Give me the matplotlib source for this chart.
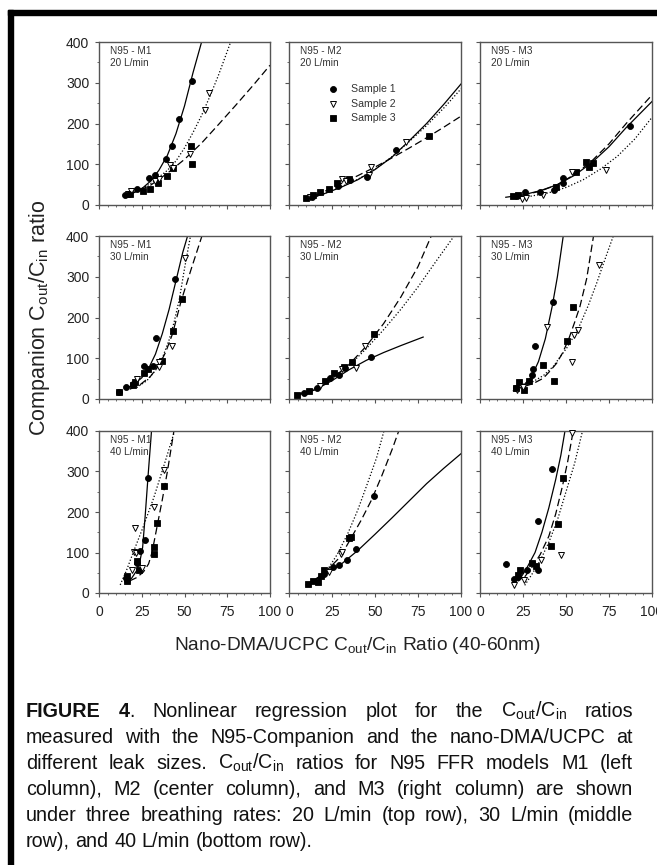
import matplotlib
matplotlib.use("Agg")
import matplotlib.pyplot as plt
from matplotlib.patches import Rectangle
from matplotlib.ticker import MultipleLocator

plt.rcParams["font.family"] = ["Liberation Sans", "DejaVu Sans"]
plt.rcParams["mathtext.fontset"] = "custom"
plt.rcParams["mathtext.rm"] = "Liberation Sans"
plt.rcParams["mathtext.it"] = "Liberation Sans:italic"
plt.rcParams["mathtext.bf"] = "Liberation Sans:bold"

# ---------------- data ----------------
models = ["M1", "M2", "M3"]
rates = ["20", "30", "40"]
x_ticks = [0, 25, 50, 75, 100]
y_ticks = [0, 100, 200, 300, 400]
sample_labels = ["Sample 1", "Sample 2", "Sample 3"]

# M1, 20 L/min
m1_20_s1 = [(15.2, 24), (17.5, 27), (22.5, 38.5), (29.3, 67), (32.6, 74.6), (39, 114), (42.6, 144), (46.9, 210), (54.1, 305)]
m1_20_s2 = [(17, 26), (19, 35), (33, 60), (35, 64), (41.4, 97.5), (43, 92), (53.1, 124.6), (61.9, 233), (64.5, 275)]
m1_20_s3 = [(18, 26), (25.8, 34), (29.7, 39), (34.6, 54), (39.5, 70.5), (43, 91), (53.7, 145), (54.3, 100)]
m1_20_f1 = [(15, 24), (20, 30), (25, 40), (30, 58), (35, 85), (40, 122), (45, 175), (50, 243), (55, 325), (60, 400)]
m1_20_f2 = [(20, 30), (30, 52), (40, 85), (45, 108), (50, 140), (55, 178), (60, 220), (65, 268), (70, 320), (77, 400)]
m1_20_f3 = [(18, 26), (30, 48), (40, 78), (50, 112), (60, 152), (70, 198), (80, 245), (90, 293), (100, 343)]

# M2, 20 L/min
m2_20_s1 = [(13.6, 19), (28.5, 47), (35.7, 61), (45.4, 69), (62, 134)]
m2_20_s2 = [(12, 20), (31, 65), (33.4, 58.5), (46.6, 73), (47.4, 93.5), (67.8, 154)]
m2_20_s3 = [(9.7, 16), (14, 24), (17.9, 32.5), (23.3, 39), (28, 53), (34.8, 65), (81.6, 169)]
m2_20_f1 = [(9, 12), (20, 27), (30, 43), (40, 62), (50, 87), (60, 118), (70, 158), (80, 200), (90, 247), (100, 297)]
m2_20_f2 = [(9, 12), (20, 27), (30, 44), (40, 63), (50, 88), (60, 119), (70, 156), (80, 195), (90, 238), (100, 285)]
m2_20_f3 = [(9, 13), (20, 32), (30, 52), (40, 72), (50, 93), (60, 116), (70, 140), (80, 165), (90, 191), (100, 218)]

# M3, 20 L/min
m3_20_s1 = [(21.4, 23), (26.2, 31), (35, 32.5), (43.3, 36.6), (48.5, 54.5), (48.5, 67), (87.4, 193)]
m3_20_s2 = [(24.3, 14), (26.8, 16), (36.9, 24), (53.6, 80), (73.4, 85)]
m3_20_s3 = [(19.4, 22), (22.3, 24), (44.3, 45), (55.9, 81), (61.7, 106), (63.1, 93.5), (65.6, 104)]
m3_20_f1 = [(15, 19), (25, 25), (35, 35), (45, 50), (55, 73), (65, 104), (75, 143), (85, 190), (100, 254)]
m3_20_f2 = [(20, 17), (30, 22), (40, 30), (50, 43), (60, 62), (70, 88), (80, 120), (90, 162), (100, 215)]
m3_20_f3 = [(18, 20), (25, 24), (35, 34), (45, 50), (55, 75), (65, 108), (75, 150), (85, 200), (100, 270)]

# M1, 30 L/min
m1_30_s1 = [(11.8, 17), (15.7, 28.6), (20, 37.5), (26.5, 81.6), (31.8, 82), (33.1, 149), (44.5, 295)]
m1_30_s2 = [(22.4, 50), (35.3, 92), (35.1, 77.5), (42.5, 129), (50.4, 345)]
m1_30_s3 = [(11.8, 17), (20, 35), (21, 41), (26.3, 65), (28.8, 73.5), (37, 94), (43, 166), (48.4, 246)]
m1_30_f1 = [(17, 28), (21, 38), (25, 52), (29, 75), (33, 110), (37, 160), (41, 220), (45, 290), (49, 360), (51.8, 400)]
m1_30_f2 = [(22, 28), (28, 45), (33, 70), (37, 100), (41, 145), (44, 190), (47, 245), (50, 320), (53.5, 400)]
m1_30_f3 = [(18, 24), (24, 35), (30, 55), (35, 82), (39, 115), (43, 160), (48, 240), (54, 320), (60.2, 400)]

# M2, 30 L/min
m2_30_s1 = [(8.7, 14.7), (16.3, 27), (24, 51), (28.8, 60), (32.3, 76), (47.7, 102)]
m2_30_s2 = [(18.3, 31), (30.8, 73), (38.8, 76), (44.2, 129)]
m2_30_s3 = [(4.8, 10.6), (11.5, 18.8), (21, 43), (26.3, 64), (31.7, 78), (36.5, 90.6), (49.4, 160)]
m2_30_f1 = [(4, 9), (15, 22), (25, 45), (35, 72), (45, 95), (55, 114), (65, 131), (78, 152)]
m2_30_f2 = [(4, 9), (15, 25), (25, 50), (35, 82), (45, 124), (55, 170), (65, 220), (75, 275), (85, 335), (96, 400)]
m2_30_f3 = [(4, 9), (15, 25), (25, 50), (35, 85), (45, 130), (55, 185), (65, 250), (75, 325), (82.7, 400)]

# M3, 30 L/min
m3_30_s1 = [(20.9, 27), (30.4, 59.6), (31, 73), (32, 130.6), (42.2, 237)]
m3_30_s2 = [(21.7, 21), (25, 30), (39.1, 176), (53.5, 90.6), (54.7, 157.6), (56.8, 170), (69.2, 329)]
m3_30_s3 = [(21, 28), (22.5, 41), (25.8, 23), (28.7, 43), (36.4, 84), (43, 43), (50.4, 142), (53.9, 225)]
m3_30_f1 = [(19.4, 20), (25, 32), (30, 55), (34, 92), (38, 148), (42, 228), (45, 300), (48.4, 400)]
m3_30_f2 = [(19.4, 31), (25, 36), (31, 43), (37, 58), (42.6, 80), (46, 100), (50.4, 125), (54, 150), (58.1, 182), (63, 230), (67.8, 284), (72, 335), (77.5, 400)]
m3_30_f3 = [(26, 31), (31, 38), (36.8, 51), (41, 70), (44.6, 88), (48, 113), (51.4, 145), (55, 188), (58.1, 227), (62, 295), (66, 400)]

# M1, 40 L/min
m1_40_s1 = [(15.9, 37), (16.3, 33), (22.3, 74), (23.9, 103.5), (26.9, 131), (28.9, 285)]
m1_40_s2 = [(19.3, 57.5), (20.3, 101), (20.9, 160), (21.7, 98.6), (25.3, 61.6), (31.9, 213.5), (38.2, 304)]
m1_40_s3 = [(16.3, 41), (16.3, 28.7), (22.3, 78), (23.3, 57.5), (31.9, 113), (31.9, 96), (33.7, 172.5), (38.2, 263)]
m1_40_f1 = [(16, 30), (19, 36), (22, 55), (24, 80), (25.5, 112), (27, 190), (28.8, 295), (30.7, 400)]
m1_40_f2 = [(12.4, 20), (16, 55), (20, 100), (26, 165), (32, 235), (38, 315), (44.2, 400)]
m1_40_f3 = [(18, 30), (22, 38), (26, 52), (29, 72), (31, 100), (34, 165), (37, 230), (40, 300), (43.8, 400)]

# M2, 40 L/min
m2_40_s1 = [(20.6, 47.5), (25.4, 64), (28.8, 68), (34, 82), (39.2, 109), (49.4, 240)]
m2_40_s2 = [(23.5, 51.6), (30.2, 96.7), (30.8, 101)]
m2_40_s3 = [(11, 21), (13.8, 29.5), (16.7, 27), (18.7, 43), (20.6, 56), (34.6, 135), (36.3, 139)]
m2_40_f1 = [(10, 20), (20, 44), (30, 70), (40, 105), (50, 145), (60, 186), (70, 228), (80, 270), (90, 308), (100, 344)]
m2_40_f2 = [(15, 30), (22, 55), (28, 95), (34, 145), (40, 205), (46, 275), (51, 335), (55.2, 400)]
m2_40_f3 = [(10, 20), (20, 47), (30, 90), (36, 135), (42, 180), (48, 230), (54, 290), (60, 355), (63.8, 400)]

# M3, 40 L/min
m3_40_s1 = [(15.2, 70.5), (19.6, 35), (21.9, 39), (27.3, 56), (33.5, 57), (34, 177), (41.7, 306)]
m3_40_s2 = [(19.6, 19), (25.4, 31), (35.6, 82), (47.1, 94), (53.3, 396)]
m3_40_s3 = [(21.9, 43.4), (23, 56), (30.2, 74.6), (32.7, 65.6), (41.3, 115.6), (45.6, 170.5), (48.5, 283)]
m3_40_f1 = [(22.5, 30), (27, 60), (32, 100), (36, 150), (40, 210), (44, 280), (47, 340), (49.4, 400)]
m3_40_f2 = [(26, 19), (30, 45), (35, 80), (40, 125), (45, 180), (50, 250), (55, 320), (59.6, 400)]
m3_40_f3 = [(26, 40), (30, 62), (35, 95), (40, 140), (44, 195), (48, 265), (51, 325), (54.2, 400)]

panel_data = {
    (0, 0): (m1_20_s1, m1_20_s2, m1_20_s3, m1_20_f1, m1_20_f2, m1_20_f3),
    (0, 1): (m2_20_s1, m2_20_s2, m2_20_s3, m2_20_f1, m2_20_f2, m2_20_f3),
    (0, 2): (m3_20_s1, m3_20_s2, m3_20_s3, m3_20_f1, m3_20_f2, m3_20_f3),
    (1, 0): (m1_30_s1, m1_30_s2, m1_30_s3, m1_30_f1, m1_30_f2, m1_30_f3),
    (1, 1): (m2_30_s1, m2_30_s2, m2_30_s3, m2_30_f1, m2_30_f2, m2_30_f3),
    (1, 2): (m3_30_s1, m3_30_s2, m3_30_s3, m3_30_f1, m3_30_f2, m3_30_f3),
    (2, 0): (m1_40_s1, m1_40_s2, m1_40_s3, m1_40_f1, m1_40_f2, m1_40_f3),
    (2, 1): (m2_40_s1, m2_40_s2, m2_40_s3, m2_40_f1, m2_40_f2, m2_40_f3),
    (2, 2): (m3_40_s1, m3_40_s2, m3_40_s3, m3_40_f1, m3_40_f2, m3_40_f3),
}

# ---------------- layout ----------------
W, H = 657, 865
fig = plt.figure(figsize=(W / 100, H / 100), dpi=100)
fig.patch.set_facecolor("white")

cols_px = [(99, 270), (289, 461), (480, 652)]
rows_px = [(42, 205), (236, 399), (431, 593)]
spine_c = "#555555"
text_c = "#333333"

marker_styles = [
    dict(marker="o", ms=4.3, mfc="black", mec="black", mew=0.6),
    dict(marker="v", ms=5.0, mfc="white", mec="black", mew=0.7),
    dict(marker="s", ms=4.6, mfc="black", mec="black", mew=0.6),
]
line_styles = ["-", (0, (1, 1.6)), (0, (6, 3))]


def xy(pts):
    return [p[0] for p in pts], [p[1] for p in pts]


for r, (yt, yb) in enumerate(rows_px):
    for c, (xl, xr) in enumerate(cols_px):
        ax = fig.add_axes([xl / W, 1 - yb / H, (xr - xl) / W, (yb - yt) / H])
        s1, s2, s3, f1, f2, f3 = panel_data[(r, c)]
        for k, f in enumerate((f1, f2, f3)):
            fx, fy = xy(f)
            ax.plot(fx, fy, color="black", lw=0.9, ls=line_styles[k], zorder=2)
        for k, s in enumerate((s3, s2, s1)):
            sx, sy = xy(s)
            ax.plot(sx, sy, ls="none", zorder=3, clip_on=False, **marker_styles[2 - k])
        ax.set_xlim(0, 100)
        ax.set_ylim(0, 400)
        ax.set_xticks(x_ticks)
        ax.set_yticks(y_ticks)
        ax.xaxis.set_minor_locator(MultipleLocator(5))
        ax.yaxis.set_minor_locator(MultipleLocator(50))
        ax.tick_params(which="major", direction="out", length=3, width=0.8,
                       color=spine_c, labelsize=10, labelcolor="#222222")
        ax.tick_params(which="minor", direction="out", length=1.6, width=0.6, color=spine_c)
        ax.tick_params(axis="x", pad=6)
        ax.tick_params(axis="y", pad=4)
        if c != 0:
            ax.set_yticklabels([])
        if r != 2:
            ax.set_xticklabels([])
        for sp in ax.spines.values():
            sp.set_color(spine_c)
            sp.set_linewidth(1.0)
        ax.text(0.065, 0.975, f"N95 - {models[c]}\n{rates[r]} L/min", transform=ax.transAxes,
                fontsize=7.2, va="top", ha="left", color=text_c, linespacing=1.2)
        if (r, c) == (0, 1):
            for k, (ly) in enumerate([0.712, 0.622, 0.534]):
                ax.plot([0.254], [ly], transform=ax.transAxes, ls="none", **marker_styles[k])
                ax.text(0.36, ly, sample_labels[k], transform=ax.transAxes, fontsize=7.6,
                        va="center", ha="left", color=text_c)

# axis labels
fig.text(40 / W, 1 - 318 / H, r"Companion $\mathregular{C_{out}/C_{in}}$ ratio",
         rotation=90, ha="center", va="center", fontsize=15.5, color="#222222")
fig.text(358 / W, 1 - 645 / H, r"Nano-DMA/UCPC $\mathregular{C_{out}/C_{in}}$ Ratio (40-60nm)",
         ha="center", va="center", fontsize=13.8, color="#222222")

# border bars
fig.patches.append(Rectangle((8 / W, 1 - 14.5 / H), (W - 8) / W, 4.5 / H,
                             transform=fig.transFigure, color="black", zorder=10))
fig.patches.append(Rectangle((8 / W, 0), 5 / W, 1 - 10 / H,
                             transform=fig.transFigure, color="black", zorder=10))

# caption (justified)
CR = r"$\mathregular{C_{out}/C_{in}}$"
cap_fs = 14.2
caption_lines = [
    ([[("FIGURE", "bold")], [("4", "bold"), (".", "normal")], [("Nonlinear", "normal")],
      [("regression", "normal")], [("plot", "normal")], [("for", "normal")], [("the", "normal")],
      [(CR, "normal")], [("ratios", "normal")]], True),
    ([[(w, "normal")] for w in "measured with the N95-Companion and the nano-DMA/UCPC at".split()], True),
    ([[(w, "normal")] for w in "different leak sizes.".split()] + [[(CR, "normal")]] +
     [[(w, "normal")] for w in "ratios for N95 FFR models M1 (left".split()], True),
    ([[(w, "normal")] for w in "column), M2 (center column), and M3 (right column) are shown".split()], True),
    ([[(w, "normal")] for w in "under three breathing rates: 20 L/min (top row), 30 L/min (middle".split()], True),
    ([[(w, "normal")] for w in "row), and 40 L/min (bottom row).".split()], False),
]
cap_left, cap_right = 26, 633
baselines = [717, 743, 769, 795, 821, 847]
renderer = fig.canvas.get_renderer()


def seg_width(s, weight):
    t = fig.text(0, 0, s, fontsize=cap_fs, weight=weight)
    w = t.get_window_extent(renderer).width
    t.remove()
    return w


space_w = seg_width("a a", "normal") - seg_width("aa", "normal")
for (words, justify), base in zip(caption_lines, baselines):
    widths = [[seg_width(s, wt) for s, wt in word] for word in words]
    totals = [sum(ws) for ws in widths]
    if justify and len(words) > 1:
        gap = (cap_right - cap_left - sum(totals)) / (len(words) - 1)
    else:
        gap = space_w
    x = cap_left
    for word, ws in zip(words, widths):
        for (s, wt), w in zip(word, ws):
            fig.text(x / W, 1 - base / H, s, fontsize=cap_fs, weight=wt,
                     ha="left", va="baseline", color="#111111")
            x += w
        x += gap

fig.savefig("out.png", dpi=100)
